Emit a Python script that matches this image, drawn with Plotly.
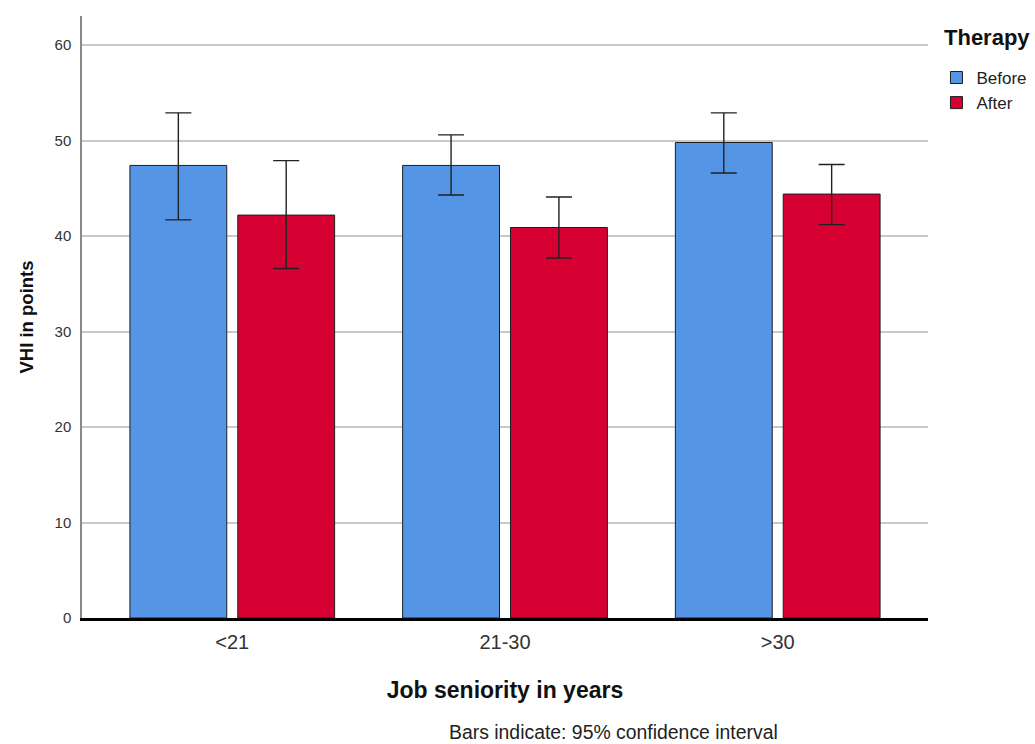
import plotly.graph_objects as go

# Job seniority groups and mean VHI scores with 95% CI bounds
categories = ["<21", "21-30", ">30"]
before_mean = [47.4, 47.4, 49.8]
before_low = [41.7, 44.3, 46.6]
before_high = [52.9, 50.6, 52.9]
after_mean = [42.2, 40.9, 44.4]
after_low = [36.6, 37.7, 41.2]
after_high = [47.9, 44.1, 47.5]

FONT = "Arial, Liberation Sans, sans-serif"


def ci(mean, low, high):
    return dict(
        type="data",
        symmetric=False,
        array=[h - m for h, m in zip(high, mean)],
        arrayminus=[m - l for m, l in zip(mean, low)],
        color="#222222",
        thickness=1.4,
        width=13,
    )


fig = go.Figure()
fig.add_trace(go.Bar(
    name="Before", x=categories, y=before_mean,
    marker=dict(color="#5595E5", line=dict(color="#1e1e1e", width=1)),
    error_y=ci(before_mean, before_low, before_high),
))
fig.add_trace(go.Bar(
    name="After", x=categories, y=after_mean,
    marker=dict(color="#D60032", line=dict(color="#1e1e1e", width=1)),
    error_y=ci(after_mean, after_low, after_high),
))

fig.update_layout(
    width=1035, height=744,
    margin=dict(l=82, r=107, t=16, b=126, autoexpand=False),
    paper_bgcolor="white", plot_bgcolor="white",
    barmode="group", bargap=0.209, bargroupgap=0.102,
    font=dict(family=FONT, color="#222222"),
    showlegend=True,
    legend=dict(
        x=1.01, xanchor="left", y=0.927, yanchor="top",
        font=dict(size=17, color="#222222"),
        itemwidth=30, traceorder="normal",
        bgcolor="rgba(0,0,0,0)",
    ),
    xaxis=dict(
        range=[-0.551, 2.551],
        showgrid=False,
        showline=True, linecolor="black", linewidth=3,
        ticks="", tickfont=dict(size=20, color="#333333"),
        ticklabelstandoff=4,
        title=dict(text="<b>Job seniority in years</b>",
                   font=dict(size=23, color="#111111"), standoff=30),
    ),
    yaxis=dict(
        range=[0, 63.05],
        tickvals=[0, 10, 20, 30, 40, 50, 60],
        showgrid=True, gridcolor="#c9c9c9", gridwidth=1.5,
        zeroline=False,
        showline=True, linecolor="#888888", linewidth=1.5,
        ticks="", tickfont=dict(size=15, color="#333333"),
        ticklabelstandoff=6,
        title=dict(text="<b>VHI in points</b>",
                   font=dict(size=18.5, color="#111111"), standoff=16),
    ),
    annotations=[
        dict(
            text="<b>Therapy</b>",
            xref="paper", yref="paper", x=1.0162, y=0.965,
            xanchor="left", yanchor="middle", showarrow=False,
            font=dict(size=22, color="#111111"),
        ),
        dict(
            text="Bars indicate: 95% confidence interval",
            xref="paper", yref="paper", x=0.628, y=-0.189,
            xanchor="center", yanchor="middle", showarrow=False,
            font=dict(size=19.4, color="#222222"),
        ),
    ],
)

fig.write_html("out.html")
